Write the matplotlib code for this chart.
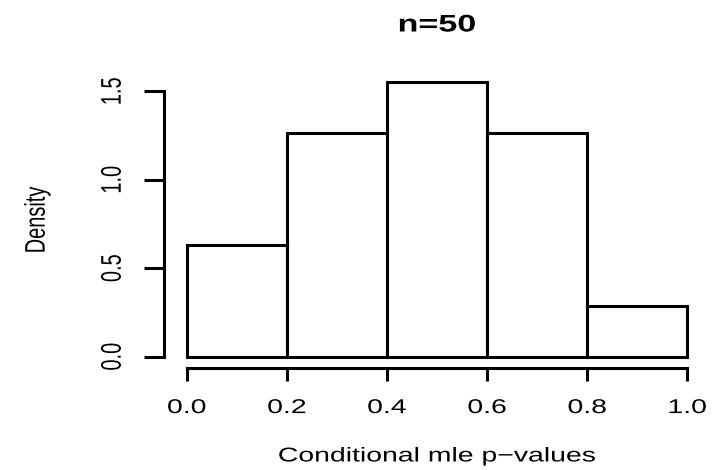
#!/usr/bin/env python3
"""Histogram of conditional mle p-values, n=50 (R base-graphics look)."""
import matplotlib
matplotlib.use("Agg")
import matplotlib.pyplot as plt
from matplotlib.patheffects import AbstractPathEffect
from matplotlib.transforms import Affine2D
from matplotlib.text import Text

bin_edges = [0.0, 0.2, 0.4, 0.6, 0.8, 1.0]
density = [0.632, 1.264, 1.552, 1.264, 0.287]
x_ticks = [0.0, 0.2, 0.4, 0.6, 0.8, 1.0]
x_ticklabels = ["0.0", "0.2", "0.4", "0.6", "0.8", "1.0"]
y_ticks = [0.0, 0.5, 1.0, 1.5]
y_ticklabels = ["0.0", "0.5", "1.0", "1.5"]


class HStretch(AbstractPathEffect):
    """Widen text horizontally about its own centre (the source image is stretched)."""
    def __init__(self, sx):
        super().__init__()
        self.sx = sx

    def draw_path(self, renderer, gc, tpath, affine, rgbFace=None):
        ext = tpath.get_extents(affine)
        cx = 0.5 * (ext.x0 + ext.x1)
        tr = affine + Affine2D().translate(-cx, 0).scale(self.sx, 1).translate(cx, 0)
        renderer.draw_path(gc, tpath, tr, rgbFace)


plt.rcParams["font.family"] = ["Liberation Sans", "DejaVu Sans"]
W, H = 721, 470
fig = plt.figure(figsize=(W / 100, H / 100), dpi=100)
ax = fig.add_axes([186.7 / W, 1 - 356.7 / H, 500.6 / W, 265.4 / H])

widths = [b - a for a, b in zip(bin_edges[:-1], bin_edges[1:])]
ax.bar(bin_edges[:-1], density, width=widths, align="edge", fill=False,
       edgecolor="black", linewidth=2.2, clip_on=False)
ax.set_xlim(0, 1)
ax.set_ylim(0, 1.5)

for s in ("top", "right"):
    ax.spines[s].set_visible(False)
ax.spines["bottom"].set_position(("outward", 8.4))
ax.spines["bottom"].set_bounds(0, 1)
ax.spines["left"].set_position(("outward", 16.3))
ax.spines["left"].set_bounds(0, 1.5)
for s in ("bottom", "left"):
    ax.spines[s].set_linewidth(2.2)

ax.set_xticks(x_ticks, x_ticklabels)
ax.set_yticks(y_ticks, y_ticklabels)
ax.tick_params(axis="x", length=9.4, width=2.2, pad=12, labelsize=14.4)
ax.tick_params(axis="y", length=14.4, width=2.2, pad=16, labelsize=14.4,
               labelrotation=90)
for lab in ax.get_yticklabels():
    lab.set_va("center")

ax.set_xlabel("Conditional mle p\u2212values", fontsize=14.4, va="center")
ax.xaxis.set_label_coords(0.5, -0.374)
ax.set_ylabel("Density", fontsize=14.4, va="center", ha="center")
ax.yaxis.set_label_coords(-0.299, 0.515)

fig.text(437 / W, 1 - 25 / H, "n=50", ha="center", va="center",
         fontsize=17.3, fontweight="bold")

for t in fig.findobj(Text):
    t.set_path_effects([HStretch(1.42)])

fig.savefig("out.png", dpi=100)
